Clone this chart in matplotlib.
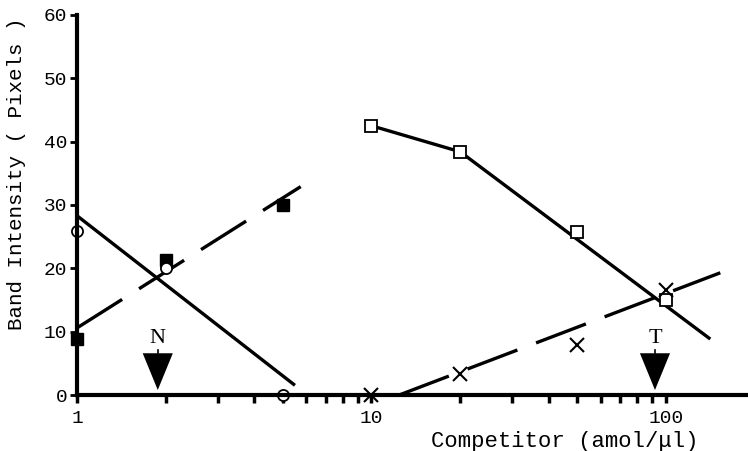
import numpy as np
import matplotlib.pyplot as plt

# competitor concentration (amol/ul) and band intensity (pixels)
x_left = [1, 2, 5]
filled_sq = [8.8, 21.3, 30.0]
open_circ = [25.9, 20.0, 0.0]

x_right = [10, 20, 50, 100]
open_sq = [42.5, 38.4, 25.7, 15.0]
cross = [0.0, 3.3, 7.9, 16.6]

# fitted lines (end points)
fit_filled_x = [1, 5.75]
fit_filled_y = [10.6, 32.9]
fit_circ_x = [1, 5.44]
fit_circ_y = [28.3, 1.7]
fit_sq_x = [10, 20, 140]
fit_sq_y = [42.5, 38.4, 9.0]
fit_cross_x = [12.4, 153]
fit_cross_y = [0.0, 19.3]

arrow_x = [1.88, 91.8]
arrow_labels = ["N", "T"]

mono = "Liberation Mono"
serif = "Liberation Serif"

fig = plt.figure(figsize=(7.48, 4.51), dpi=100)
ax = fig.add_axes([0.103, 0.124, 0.897, 0.843])
ax.set_xscale("log")
ax.set_xlim(1, 190)
ax.set_ylim(0, 60)

lw = 2.4
dash = (0, (16, 6))
ax.plot(fit_filled_x, fit_filled_y, color="black", lw=lw, linestyle=dash)
ax.plot(fit_circ_x, fit_circ_y, color="black", lw=lw)
ax.plot(fit_sq_x, fit_sq_y, color="black", lw=lw)
ax.plot(fit_cross_x, fit_cross_y, color="black", lw=lw, linestyle=dash)

ax.plot(x_left, filled_sq, "s", ms=9, color="black", clip_on=False)
ax.plot(x_left, open_circ, "o", ms=8, mfc="white", mec="black", mew=1.3, clip_on=False)
ax.plot(x_right, open_sq, "s", ms=9, mfc="white", mec="black", mew=1.3, clip_on=False)
ax.plot(x_right, cross, "x", ms=10, color="black", mew=1.5, clip_on=False)

# N / T arrows
for xa, lab in zip(arrow_x, arrow_labels):
    ax.fill([xa / 1.125, xa * 1.125, xa], [6.6, 6.6, 0.8], color="black", lw=0)
    ax.plot([xa, xa], [6.6, 7.1], color="black", lw=1.2)
    ax.text(xa, 7.4, lab, family=serif, fontsize=16, ha="center", va="bottom")

for s in ["top", "right"]:
    ax.spines[s].set_visible(False)
ax.spines["left"].set_linewidth(3)
ax.spines["bottom"].set_linewidth(3)

ax.set_yticks([0, 10, 20, 30, 40, 50, 60])
ax.set_xticks([1, 10, 100])
ax.set_xticklabels(["1", "10", "100"])
ax.tick_params(axis="y", direction="out", length=5, width=2, pad=2)
ax.tick_params(axis="x", which="major", direction="out", length=6, width=2.5, pad=5)
ax.tick_params(axis="x", which="minor", direction="out", length=6, width=2.5)
for t in ax.get_xticklabels() + ax.get_yticklabels():
    t.set_family(mono)
    t.set_fontsize(14)

fig.text(0.022, 0.614, "Band Intensity ( Pixels )", family=mono, fontsize=15,
         rotation=90, ha="center", va="center")
fig.text(0.755, 0.022, "Competitor (amol/\u03bcl)", family=mono, fontsize=16,
         ha="center", va="center")

fig.savefig("out.png", dpi=100)
